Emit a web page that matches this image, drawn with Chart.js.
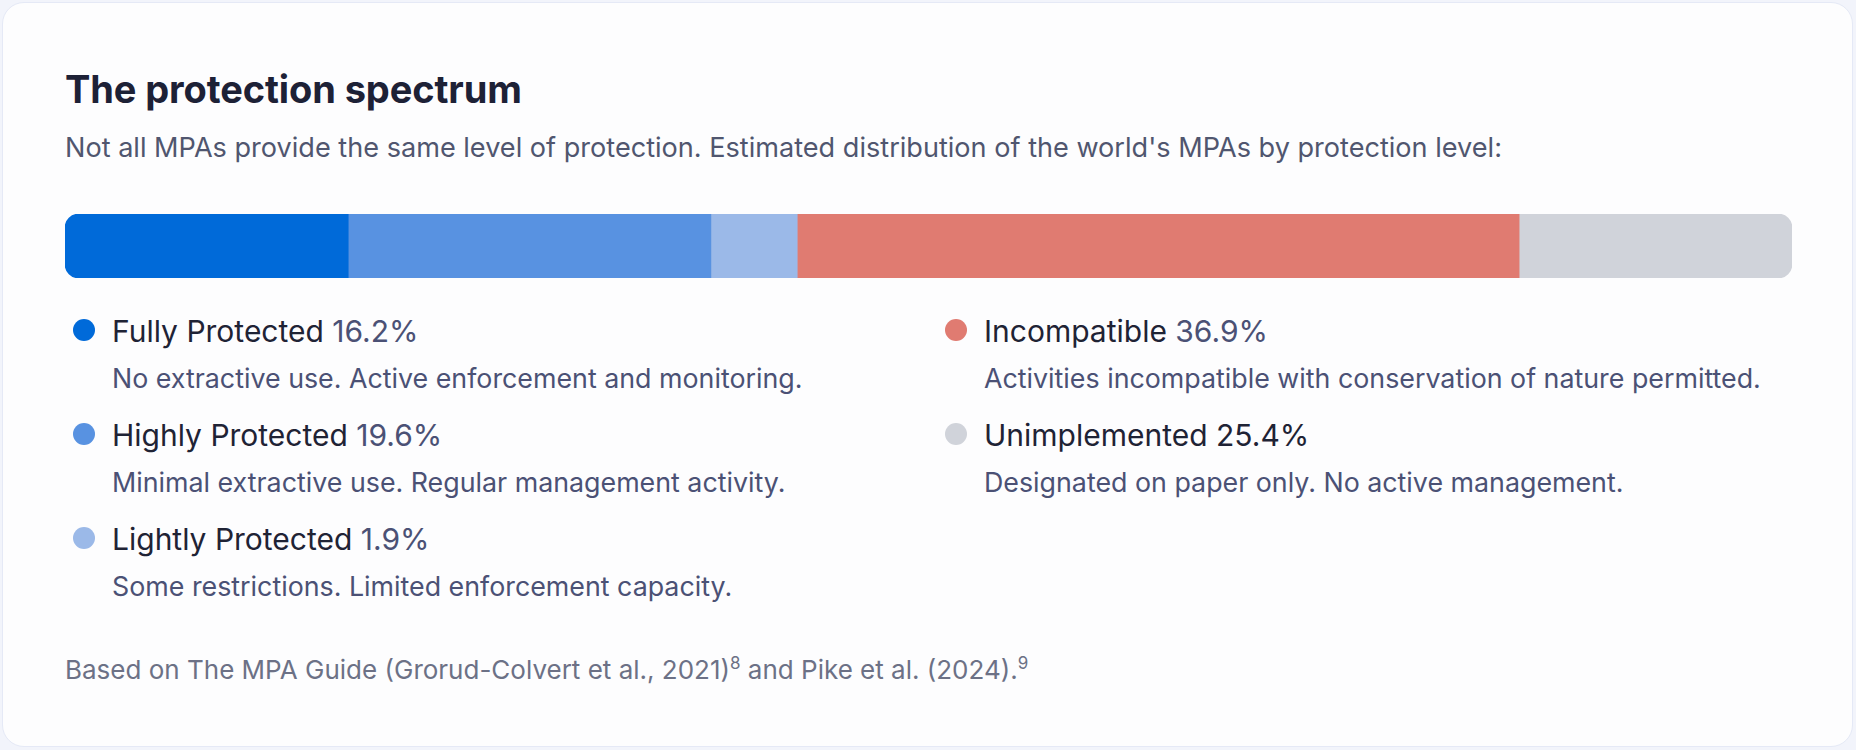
<!DOCTYPE html>
<html>
<head>
<meta charset="utf-8">
<script src="https://cdn.jsdelivr.net/npm/chart.js@4.4.1/dist/chart.umd.min.js"></script>
<style>
  html, body { margin: 0; padding: 0; }
  body { width: 1856px; height: 750px; background: #f2f4fb; font-family: "Inter", sans-serif; position: relative; overflow: hidden; }
  .card { position: absolute; left: 2px; top: 2px; width: 1849px; height: 743px; background: #fdfdfe; border: 1.5px solid #e5e9f6; border-radius: 22px; }
  .abs { position: absolute; white-space: nowrap; }
  #title { left: 65px; top: 70px; font-size: 38px; line-height: 38px; font-weight: 700; color: #1d2136; letter-spacing: -0.1px; }
  #subtitle { left: 65px; top: 134px; font-size: 27.1px; line-height: 27px; color: #50566f; }
  #barBox { left: 65px; top: 214px; width: 1727px; height: 64px; }
  .item { position: absolute; padding-left: 39px; }
  .dot { position: absolute; left: 0; top: 5px; width: 22px; height: 22px; border-radius: 50%; }
  .lab { font-size: 30px; line-height: 34px; color: #1f2335; white-space: nowrap; }
  .pct { color: #4b5175; }
  .desc { font-size: 26.8px; line-height: 30px; color: #4b5175; margin-top: 15px; white-space: nowrap; }
  #foot { left: 65px; top: 657px; font-size: 26px; line-height: 26px; color: #6c7186; }
  #foot sup { font-size: 17px; line-height: 0; vertical-align: 10px; }
</style>
</head>
<body>
<div class="card"></div>
<div class="abs" id="title">The protection spectrum</div>
<div class="abs" id="subtitle">Not all MPAs provide the same level of protection. Estimated distribution of the world's MPAs by protection level:</div>
<div class="abs" id="barBox"><canvas id="bar"></canvas></div>
<div id="legend"></div>
<div class="abs" id="foot">Based on The MPA Guide (Grorud-Colvert et al., 2021)<sup>8</sup> and Pike et al. (2024).<sup>9</sup></div>

<script>
// protection levels and their shares
const levels = ["Fully Protected", "Highly Protected", "Lightly Protected", "Incompatible", "Unimplemented"];
const sharePct = [16.2, 19.6, 1.9, 36.9, 25.4];
// segment widths as drawn in the bar (percent of bar length)
const barPct = [16.4, 21.0, 5.0, 41.8, 15.8];
const notes = [
  "No extractive use. Active enforcement and monitoring.",
  "Minimal extractive use. Regular management activity.",
  "Some restrictions. Limited enforcement capacity.",
  "Activities incompatible with conservation of nature permitted.",
  "Designated on paper only. No active management."
];

const colors = ["#006ad9", "#5892e1", "#9bb9e8", "#e07b71", "#d0d3da"];
const pctColors = ["#4b5175", "#4b5175", "#4b5175", "#4b5175", "#1f2335"];

// legend: left column holds 3 levels, right column the other 2
const slots = [[73, 314], [73, 418], [73, 522], [945, 314], [945, 418]];
const legend = document.getElementById("legend");
levels.forEach((name, i) => {
  const item = document.createElement("div");
  item.className = "item";
  item.style.left = slots[i][0] + "px";
  item.style.top = slots[i][1] + "px";
  item.innerHTML =
    '<span class="dot" style="background:' + colors[i] + '"></span>' +
    '<div class="lab">' + name + ' <span class="pct" style="color:' + pctColors[i] + '">' + sharePct[i] + '%</span></div>' +
    '<div class="desc">' + notes[i] + '</div>';
  legend.appendChild(item);
});

const R = 14;
function corners(i) {
  if (i === 0) return { topLeft: R, bottomLeft: R, topRight: 0, bottomRight: 0 };
  if (i === levels.length - 1) return { topLeft: 0, bottomLeft: 0, topRight: R, bottomRight: R };
  return 0;
}

new Chart(document.getElementById("bar"), {
  type: "bar",
  data: {
    labels: [""],
    datasets: levels.map((name, i) => ({
      label: name,
      data: [barPct[i]],
      backgroundColor: colors[i],
      borderWidth: 0,
      borderSkipped: false,
      borderRadius: corners(i),
      barPercentage: 1,
      categoryPercentage: 1
    }))
  },
  options: {
    indexAxis: "y",
    responsive: true,
    maintainAspectRatio: false,
    animation: false,
    layout: { padding: 0 },
    plugins: { legend: { display: false }, tooltip: { enabled: false } },
    scales: {
      x: { stacked: true, min: 0, max: 100, display: false },
      y: { stacked: true, display: false }
    }
  }
});
</script>
</body>
</html>
